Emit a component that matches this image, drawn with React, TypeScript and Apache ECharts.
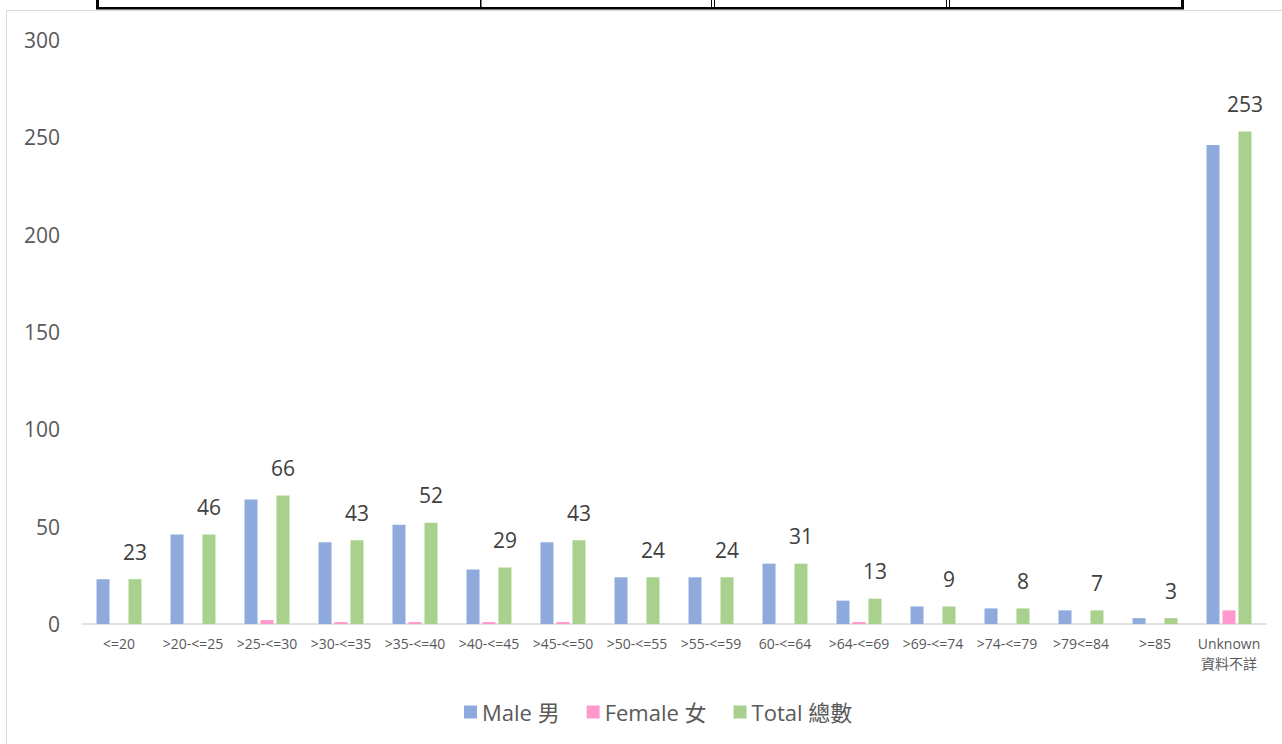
import React, { useEffect, useRef } from "react";
import * as echarts from "echarts";

const categories = [
  "<=20", ">20-<=25", ">25-<=30", ">30-<=35", ">35-<=40", ">40-<=45", ">45-<=50",
  ">50-<=55", ">55-<=59", "60-<=64", ">64-<=69", ">69-<=74", ">74-<=79", ">79<=84",
  ">=85", "Unknown\n資料不詳",
];
const maleValues = [23, 46, 64, 42, 51, 28, 42, 24, 24, 31, 12, 9, 8, 7, 3, 246];
const femaleValues = [0, 0, 2, 1, 1, 1, 1, 0, 0, 0, 1, 0, 0, 0, 0, 7];
const totalValues = [23, 46, 66, 43, 52, 29, 43, 24, 24, 31, 13, 9, 8, 7, 3, 253];
const seriesNames = ["Male 男", "Female 女", "Total 總數"];
const seriesColors = ["#8FAADC", "#FF99CC", "#A9D18E"];

const FONT = "'Open Sans', 'Noto Sans CJK TC', sans-serif";

export default function App() {
  const ref = useRef<HTMLDivElement>(null);
  useEffect(() => {
    if (!ref.current) return;
    const chart = echarts.init(ref.current, null, { renderer: "svg" });
    const barBase = {
      type: "bar" as const,
      barWidth: 13,
      barGap: "23%",
    };
    chart.setOption({
      animation: false,
      backgroundColor: "#ffffff",
      textStyle: { fontFamily: FONT },
      graphic: [
        {
          type: "rect",
          z: -10,
          shape: { x: 6.5, y: 10.5, width: 1300, height: 800 },
          style: { fill: "#ffffff", stroke: "#d9d9d9", lineWidth: 1 },
        },
        { type: "rect", shape: { x: 96, y: 0, width: 3, height: 9 }, style: { fill: "#000" } },
        { type: "rect", shape: { x: 1181, y: 0, width: 3, height: 9 }, style: { fill: "#000" } },
        { type: "rect", shape: { x: 96, y: 7, width: 1088, height: 2.5 }, style: { fill: "#000" } },
        { type: "rect", shape: { x: 480, y: 0, width: 1.5, height: 8 }, style: { fill: "#000" } },
        { type: "rect", shape: { x: 711, y: 0, width: 1, height: 8 }, style: { fill: "#000" } },
        { type: "rect", shape: { x: 714, y: 0, width: 1, height: 8 }, style: { fill: "#000" } },
        { type: "rect", shape: { x: 946, y: 0, width: 1, height: 8 }, style: { fill: "#000" } },
        { type: "rect", shape: { x: 949, y: 0, width: 1, height: 8 }, style: { fill: "#000" } },
      ],
      grid: { left: 82, right: 16, top: 40, bottom: 120, containLabel: false },
      legend: {
        data: seriesNames,
        left: 459,
        top: 696,
        itemWidth: 13,
        itemHeight: 13,
        itemGap: 27,
        icon: "rect",
        textStyle: { fontSize: 22, color: "#595959", fontFamily: FONT },
      },
      xAxis: {
        type: "category",
        data: categories,
        axisLine: { show: true, lineStyle: { color: "#d9d9d9", width: 1.5 } },
        axisTick: { show: false },
        axisLabel: {
          interval: 0,
          fontSize: 14,
          color: "#595959",
          margin: 9,
          lineHeight: 20,
          fontFamily: FONT,
        },
      },
      yAxis: {
        type: "value",
        min: 0,
        max: 300,
        interval: 50,
        axisLine: { show: false },
        axisTick: { show: false },
        splitLine: { show: false },
        axisLabel: { fontSize: 21, color: "#595959", margin: 22, fontFamily: FONT },
      },
      series: [
        { ...barBase, name: seriesNames[0], data: maleValues, itemStyle: { color: seriesColors[0] } },
        { ...barBase, name: seriesNames[1], data: femaleValues, itemStyle: { color: seriesColors[1] } },
        {
          ...barBase,
          name: seriesNames[2],
          data: totalValues,
          itemStyle: { color: seriesColors[2] },
          label: {
            show: true,
            position: "top",
            distance: 17,
            fontSize: 21,
            color: "#404040",
            fontFamily: FONT,
          },
        },
      ],
    });
    return () => chart.dispose();
  }, []);
  return (
    <div style={{ position: "fixed", left: 0, top: 0, width: 1282, height: 744, overflow: "hidden", background: "#fff" }}>
      <div ref={ref} style={{ width: 1282, height: 744 }} />
    </div>
  );
}
